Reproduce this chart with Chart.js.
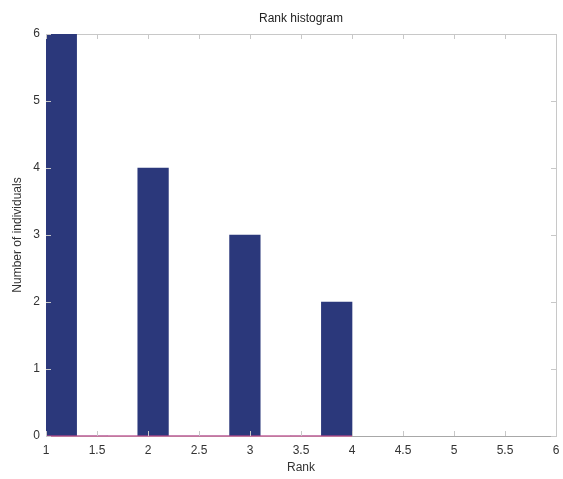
<!DOCTYPE html>
<html>
<head>
<meta charset="utf-8">
<script src="https://cdn.jsdelivr.net/npm/chart.js@4.4.1/dist/chart.umd.min.js"></script>
<style>
  html, body { margin: 0; padding: 0; background: #fff; }
  #wrap { width: 563px; height: 479px; }
</style>
</head>
<body>
<div id="wrap"><canvas id="myChart" width="563" height="479"></canvas></div>
<script>
// hist() of the ranks: 10 bins over [1, 4], bin centres and counts
const binCenters = [1.15, 1.45, 1.75, 2.05, 2.35, 2.65, 2.95, 3.25, 3.55, 3.85];
const counts     = [6, 0, 0, 4, 0, 0, 3, 0, 0, 2];
const baseLine   = [1, 4];          // x range of the zero line under the bins
const xTicks     = [1, 1.5, 2, 2.5, 3, 3.5, 4, 4.5, 5, 5.5, 6];
const yTicks     = [0, 1, 2, 3, 4, 5, 6];

const FONT = { family: "'Liberation Sans', Arial, sans-serif", size: 12 };

// MATLAB-style inner tick marks on all four sides of the box
const innerTicks = {
  id: 'innerTicks',
  afterDatasetsDraw(chart) {
    const { ctx, chartArea: a, scales } = chart;
    ctx.save();
    ctx.strokeStyle = '#c8c8c8';
    ctx.lineWidth = 1;
    ctx.beginPath();
    xTicks.forEach(v => {
      const px = Math.round(scales.x.getPixelForValue(v)) + 0.5;
      ctx.moveTo(px, a.bottom); ctx.lineTo(px, a.bottom - 5);
      ctx.moveTo(px, a.top);    ctx.lineTo(px, a.top + 5);
    });
    yTicks.forEach(v => {
      const py = Math.round(scales.y.getPixelForValue(v)) + 0.5;
      ctx.moveTo(a.left, py);  ctx.lineTo(a.left + 5, py);
      ctx.moveTo(a.right, py); ctx.lineTo(a.right - 5, py);
    });
    ctx.stroke();
    ctx.restore();
  }
};

new Chart(document.getElementById('myChart'), {
  type: 'bar',
  data: {
    datasets: [
      {
        type: 'line',
        data: baseLine.map(x => ({ x: x, y: 0 })),
        borderColor: '#d9488f',
        borderWidth: 1,
        pointRadius: 0,
        clip: false,
        order: 0
      },
      {
        data: binCenters.map((x, i) => ({ x: x, y: counts[i] })),
        backgroundColor: '#2b387b',
        borderWidth: 0,
        barPercentage: 1,
        categoryPercentage: 1,
        order: 1
      }
    ]
  },
  options: {
    responsive: false,
    animation: false,
    layout: { padding: 0, autoPadding: false },
    plugins: {
      legend: { display: false },
      tooltip: { enabled: false }
    },
    scales: {
      x: {
        type: 'linear',
        position: 'bottom',
        offset: false,
        min: 1,
        max: 6,
        afterBuildTicks: s => { s.ticks = xTicks.map(v => ({ value: v })); },
        ticks: { color: '#333', font: FONT, padding: 7, maxRotation: 0, callback: v => String(v) },
        grid: { display: false, drawTicks: false, offset: false },
        border: { display: true, color: '#a8a8a8' },
        title: { display: true, text: 'Rank', color: '#333', font: FONT, padding: { top: 0, bottom: 4 } },
        afterFit: s => { s.height = 43; s.paddingLeft = 0; s.paddingRight = 0; }
      },
      xTop: {
        type: 'linear',
        position: 'top',
        offset: false,
        min: 1,
        max: 6,
        ticks: { display: false },
        grid: { display: false, drawTicks: false },
        border: { display: true, color: '#c8c8c8' },
        title: { display: true, text: 'Rank histogram', color: '#222', font: FONT, padding: { top: 11, bottom: 0 } },
        afterFit: s => { s.height = 34; s.paddingLeft = 0; s.paddingRight = 0; }
      },
      y: {
        min: 0,
        max: 6,
        afterBuildTicks: s => { s.ticks = yTicks.map(v => ({ value: v })); },
        ticks: { color: '#333', font: FONT, padding: 6 },
        grid: { display: false, drawTicks: false },
        border: { display: true, color: '#a8a8a8' },
        title: { display: true, text: 'Number of individuals', color: '#333', font: FONT, padding: { top: 10, bottom: 0 } },
        afterFit: s => { s.width = 46; }
      },
      yRight: {
        position: 'right',
        min: 0,
        max: 6,
        ticks: { display: false },
        grid: { display: false, drawTicks: false },
        border: { display: true, color: '#c8c8c8' },
        afterFit: s => { s.width = 7; }
      }
    }
  },
  plugins: [innerTicks]
});
</script>
</body>
</html>
